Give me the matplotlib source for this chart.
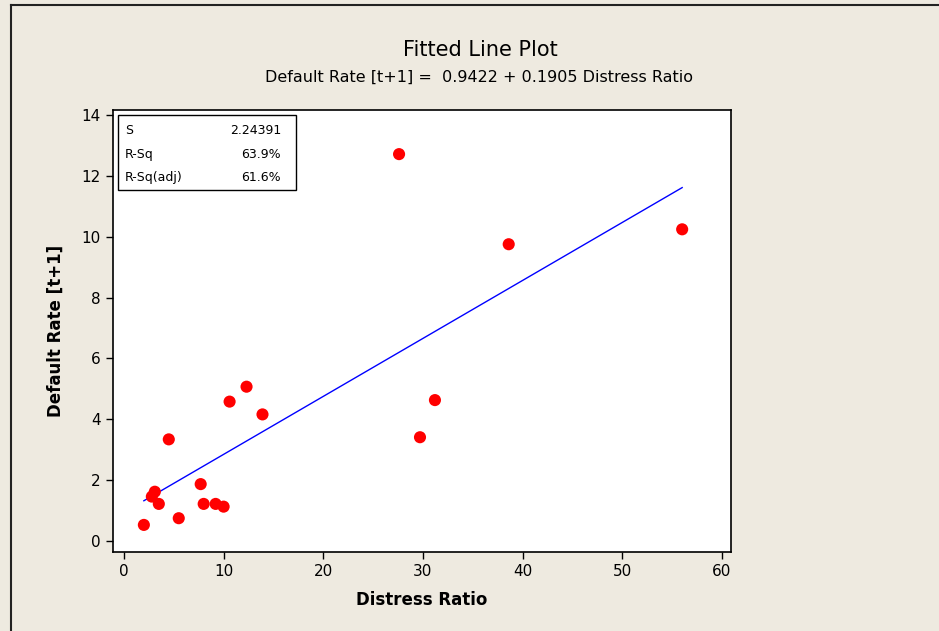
#!/usr/bin/env python3
"""Fitted line plot: default rate vs distress ratio."""

import matplotlib
matplotlib.use('Agg')
import matplotlib.pyplot as plt
from matplotlib.patches import Rectangle
from matplotlib.lines import Line2D
import numpy as np

# Data
distress_ratio = [2.0, 2.8, 3.1, 3.5, 4.5, 5.5, 7.7, 8.0, 9.2, 10.0,
                  10.6, 12.3, 13.9, 27.6, 29.7, 31.2, 38.6, 56.0]
default_rate = [0.53, 1.46, 1.62, 1.22, 3.34, 0.75, 1.87, 1.22, 1.22, 1.13,
                4.58, 5.07, 4.16, 12.71, 3.41, 4.63, 9.75, 10.24]

# Regression summary shown on the chart
intercept = 0.9422
slope = 0.1905
stat_names = ['S', 'R-Sq', 'R-Sq(adj)']
stat_values = ['2.24391', '63.9%', '61.6%']

x_ticks = [0, 10, 20, 30, 40, 50, 60]
y_ticks = [0, 2, 4, 6, 8, 10, 12, 14]

bg = '#EEEAE0'

fig = plt.figure(figsize=(9.39, 6.31), dpi=100, facecolor=bg)
ax = fig.add_axes([0.1203, 0.1252, 0.6582, 0.7005])
ax.set_facecolor('white')

# Fitted line over the data range
xs = np.array([min(distress_ratio), max(distress_ratio)])
ax.plot(xs, intercept + slope * xs, color='#0000FF', linewidth=1.0, zorder=2)
ax.scatter(distress_ratio, default_rate, s=76, color='#FF0000',
           edgecolors='none', zorder=3)

ax.set_xlim(-1.1, 60.9)
ax.set_ylim(-0.36, 14.16)
ax.set_xticks(x_ticks)
ax.set_yticks(y_ticks)
ax.tick_params(direction='out', length=5, width=1.0, labelsize=11,
               colors='black', pad=4)
for s in ax.spines.values():
    s.set_linewidth(1.2)
    s.set_color('black')

ax.set_xlabel('Distress Ratio', fontsize=12, fontweight='bold', labelpad=8)
ax.set_ylabel('Default Rate [t+1]', fontsize=12, fontweight='bold', labelpad=12)

# Stats box
ax.add_patch(Rectangle((0.008, 0.819), 0.288, 0.1697, transform=ax.transAxes,
                       facecolor='white', edgecolor='black', linewidth=1.0,
                       zorder=4))
row_y = [0.953, 0.899, 0.847]
for name, val, yy in zip(stat_names, stat_values, row_y):
    ax.text(0.019, yy, name, transform=ax.transAxes, fontsize=9,
            va='center', ha='left', zorder=5)
    ax.text(0.272, yy, val, transform=ax.transAxes, fontsize=9,
            va='center', ha='right', zorder=5)

# Titles
fig.text(480 / 939, 1 - 50 / 631, 'Fitted Line Plot', fontsize=15,
         ha='center', va='center')
fig.text(479 / 939, 1 - 77 / 631,
         'Default Rate [t+1] =  0.9422 + 0.1905 Distress Ratio',
         fontsize=11.5, ha='center', va='center')

# Window border (left and top edges)
fig.add_artist(Line2D([11 / 939, 11 / 939], [0, 1 - 5 / 631],
                      transform=fig.transFigure, color='#222222', linewidth=1.5))
fig.add_artist(Line2D([11 / 939, 1.01], [1 - 5 / 631, 1 - 5 / 631],
                      transform=fig.transFigure, color='#222222', linewidth=1.5))

fig.savefig('out.png', dpi=100, facecolor=bg)
